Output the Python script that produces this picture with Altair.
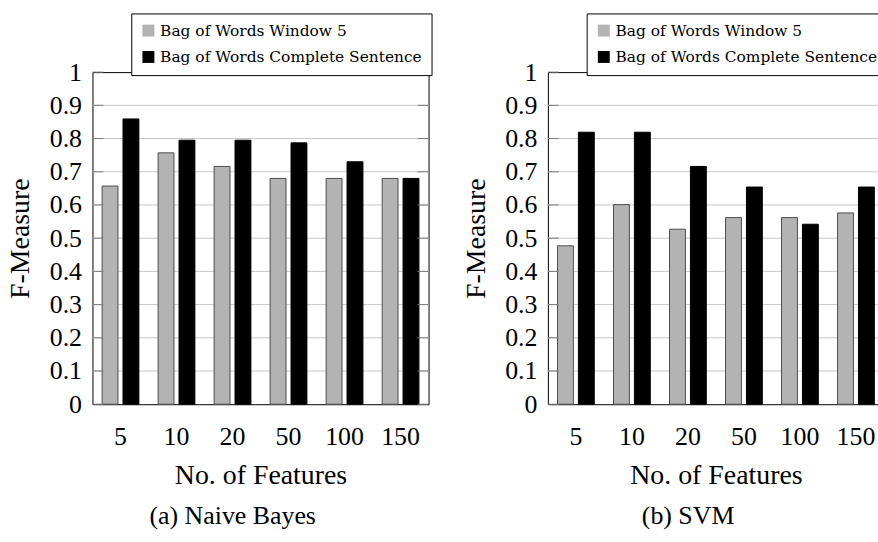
import altair as alt
import pandas as pd

# Number of features on the x axis and the two feature representations
features = ["5", "10", "20", "50", "100", "150"]
series = ["Bag of Words Window 5", "Bag of Words Complete Sentence"]
fill_colors = ["#b3b3b3", "#000000"]
edge_colors = ["#4d4d4d", "#000000"]

# F-measure per classifier
nb_window = [0.657, 0.757, 0.716, 0.680, 0.680, 0.680]
nb_sentence = [0.859, 0.795, 0.795, 0.787, 0.730, 0.680]
svm_window = [0.477, 0.601, 0.527, 0.562, 0.562, 0.576]
svm_sentence = [0.819, 0.819, 0.716, 0.654, 0.542, 0.654]

y_ticks = [0, 0.1, 0.2, 0.3, 0.4, 0.5, 0.6, 0.7, 0.8, 0.9, 1]
grid_values = [0.1, 0.2, 0.3, 0.4, 0.5, 0.6, 0.7, 0.8, 0.9]

SERIF = "Liberation Serif"
LEGEND_SERIF = "DejaVu Serif"
W, H = 338, 334
LEGEND_W = 299


def long_table(window, sentence):
    rows = []
    for feat, a, b in zip(features, window, sentence):
        rows.append({"features": feat, "series": series[0], "value": a})
        rows.append({"features": feat, "series": series[1], "value": b})
    return pd.DataFrame(rows)


y_scale = alt.Scale(domain=[0, 1], nice=False, zero=True)
y_axis = alt.Axis(
    values=y_ticks, format=".1~f", title="F-Measure",
    labelFont=SERIF, labelFontSize=26, labelColor="black", labelPadding=11,
    labelOverlap=False, ticks=False, tickSize=0, domain=False, grid=False,
    titleFont=SERIF, titleFontSize=28, titleFontWeight="normal", titleColor="black",
    titleAngle=270, titleX=-64, titleY=H / 2, titleBaseline="alphabetic", titleAlign="center",
)
x_axis = alt.Axis(
    title="No. of Features", labelAngle=0,
    labelFont=SERIF, labelFontSize=26, labelColor="black",
    labelBaseline="alphabetic", labelPadding=41,
    ticks=False, tickSize=0, domain=False, grid=False,
    titleFont=SERIF, titleFontSize=28, titleFontWeight="normal", titleColor="black",
    titleX=W / 2, titleY=80, titleBaseline="alphabetic", titleAlign="center",
)


def panel(window, sentence, caption, right_ticks):
    df = long_table(window, sentence)

    grid = alt.Chart(pd.DataFrame({"tick": grid_values})).mark_rule(
        color="#c8c8c8", strokeWidth=1
    ).encode(
        y=alt.Y("tick:Q", scale=y_scale, axis=y_axis),
        x=alt.value(0), x2=alt.value(W),
    )

    bars = alt.Chart(df).mark_bar(strokeWidth=1).encode(
        x=alt.X("features:N", sort=features,
                scale=alt.Scale(paddingInner=0, paddingOuter=0), axis=x_axis),
        xOffset=alt.XOffset("series:N", sort=series,
                            scale=alt.Scale(paddingInner=0.24, paddingOuter=0.46)),
        y=alt.Y("value:Q", scale=y_scale, axis=y_axis),
        color=alt.Color(
            "series:N", sort=series,
            scale=alt.Scale(domain=series, range=fill_colors),
            legend=alt.Legend(
                title=None, orient="none", legendX=W - LEGEND_W, legendY=-59,
                direction="vertical", symbolType="square", symbolSize=144,
                symbolStrokeWidth=0, labelFont=LEGEND_SERIF, labelFontSize=15.5,
                labelColor="black", labelOffset=4, labelLimit=400,
                strokeColor="black", fillColor="white", padding=9.5, rowPadding=9.5,
            ),
        ),
        stroke=alt.Stroke("series:N", sort=series,
                          scale=alt.Scale(domain=series, range=edge_colors), legend=None),
    )

    tick_df = pd.DataFrame({"tick": y_ticks})
    left_ticks = alt.Chart(tick_df).mark_rule(color="#7a7a7a", strokeWidth=1).encode(
        y=alt.Y("tick:Q", scale=y_scale, axis=y_axis),
        x=alt.value(0), x2=alt.value(11),
    )
    layers = [grid, bars, left_ticks]
    if right_ticks:
        layers.append(
            alt.Chart(tick_df).mark_rule(color="#7a7a7a", strokeWidth=1).encode(
                y=alt.Y("tick:Q", scale=y_scale, axis=y_axis),
                x=alt.value(W - 11), x2=alt.value(W),
            )
        )

    # sub-figure caption under the axis title
    layers.append(
        alt.Chart(pd.DataFrame({"caption": [caption]})).mark_text(
            font=SERIF, fontSize=26, align="center", baseline="alphabetic", color="black"
        ).encode(text="caption:N", x=alt.value(141), y=alt.value(H + 120))
    )

    return alt.layer(*layers).properties(width=W, height=H)


left = panel(nb_window, nb_sentence, "(a) Naive Bayes", True)
right = panel(svm_window, svm_sentence, "(b) SVM", False)

chart = alt.hconcat(left, right, spacing=120, bounds="flush").resolve_scale(
    color="independent", stroke="independent"
).configure_view(
    stroke="black", strokeWidth=1
).properties(
    padding={"left": 6, "top": 11, "right": -10, "bottom": 7},
    background="white",
)

chart.save("out.html", embed_options={"renderer": "svg", "actions": False})
